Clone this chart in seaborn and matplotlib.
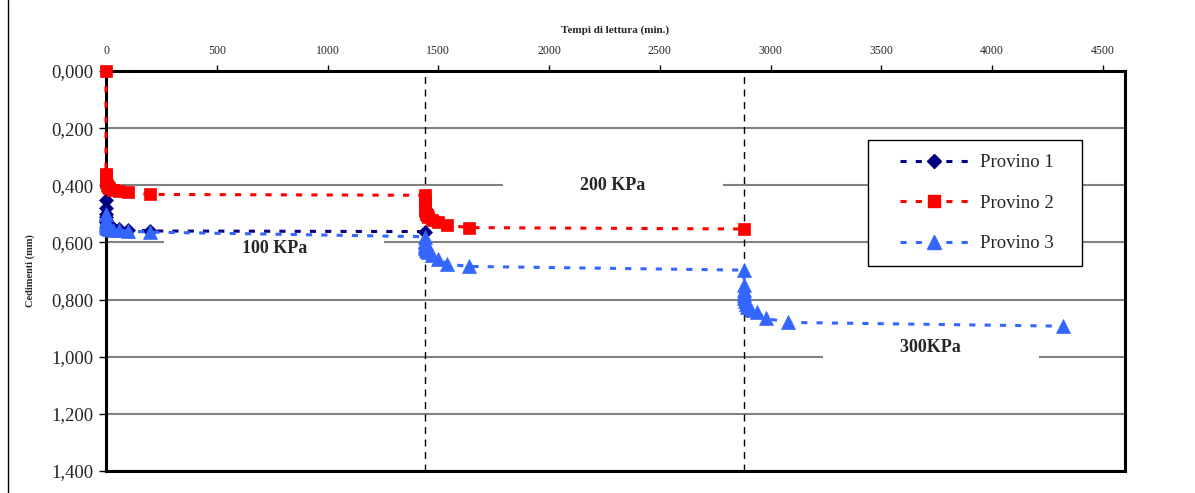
import numpy as np
import pandas as pd
import matplotlib
matplotlib.use("Agg")
import matplotlib.pyplot as plt
from matplotlib.lines import Line2D
from matplotlib.legend_handler import HandlerLine2D
import seaborn as sns

# ---------------- data ----------------
series_names = ["Provino 1", "Provino 2", "Provino 3"]

# reading times (min)
t_phase1 = [0, 0.1, 0.25, 0.5, 1, 2, 4, 8, 15, 30, 60, 100, 200]
t_phase2 = [1440, 1440.1, 1440.25, 1440.5, 1441, 1442, 1444, 1448, 1455, 1470, 1500, 1540, 1640]
t_phase3 = [2880, 2880.1, 2880.25, 2880.5, 2881, 2882, 2884, 2888, 2895, 2910, 2940, 2980, 3080]

# Provino 1 (only first load step + first reading of second)
p1_time = t_phase1 + [1440]
p1_sett = [0.450, 0.480, 0.500, 0.510, 0.520, 0.530, 0.535, 0.540, 0.545, 0.550, 0.552, 0.555, 0.560, 0.562]

# Provino 2
p2_time = t_phase1 + t_phase2 + [2880]
p2_sett = [0.000, 0.360, 0.365, 0.375, 0.385, 0.390, 0.400, 0.405, 0.410, 0.415, 0.420, 0.425, 0.432,
           0.435, 0.450, 0.460, 0.470, 0.480, 0.490, 0.500, 0.505, 0.510, 0.520, 0.530, 0.540, 0.548,
           0.553]

# Provino 3
p3_time = t_phase1 + t_phase2 + t_phase3 + [4320]
p3_sett = [0.500, 0.520, 0.530, 0.535, 0.540, 0.545, 0.550, 0.550, 0.552, 0.555, 0.557, 0.560, 0.564,
           0.580, 0.595, 0.600, 0.610, 0.615, 0.620, 0.625, 0.630, 0.635, 0.645, 0.658, 0.676, 0.684,
           0.697, 0.750, 0.765, 0.777, 0.785, 0.795, 0.805, 0.815, 0.826, 0.836, 0.845, 0.866, 0.880,
           0.893]

load_change_times = [1440, 2880]
load_labels = ["100 KPa", "200 KPa", "300KPa"]
load_label_pos = [(760, 0.62), (2287, 0.40), (3723, 0.966)]

xticks = [0, 500, 1000, 1500, 2000, 2500, 3000, 3500, 4000, 4500]
yticks = [0.0, 0.2, 0.4, 0.6, 0.8, 1.0, 1.2, 1.4]
ytick_labels = ["0,000", "0,200", "0,400", "0,600", "0,800", "1,000", "1,200", "1,400"]

colors = {"Provino 1": "#000080", "Provino 2": "#FF0000", "Provino 3": "#3366FF"}
markers = {"Provino 1": "D", "Provino 2": "s", "Provino 3": "^"}
msizes = {"Provino 1": 7.5, "Provino 2": 9, "Provino 3": 10}

df = pd.concat([
    pd.DataFrame({"t": p1_time, "s": p1_sett, "Provino": "Provino 1"}),
    pd.DataFrame({"t": p2_time, "s": p2_sett, "Provino": "Provino 2"}),
    pd.DataFrame({"t": p3_time, "s": p3_sett, "Provino": "Provino 3"}),
], ignore_index=True)

# ---------------- style ----------------
sns.set_style("white")
plt.rcParams["font.family"] = ["Liberation Serif", "DejaVu Serif"]

fig = plt.figure(figsize=(11.95, 4.93), dpi=100)
ax = fig.add_axes([106 / 1195, 1 - 471 / 493, (1125 - 106) / 1195, 400 / 493])

for name in series_names:
    sub = df[df["Provino"] == name]
    sns.lineplot(data=sub, x="t", y="s", ax=ax, color=colors[name], marker=markers[name],
                 markersize=msizes[name], markeredgecolor=colors[name], markeredgewidth=0.5,
                 lw=2.2, estimator=None, sort=False, legend=False, zorder=3)
for ln in ax.lines:
    ln.set_dashes((2, 3))
    ln.set_clip_on(False)

for tc in load_change_times:
    ax.axvline(tc, color="black", lw=1, ls=(0, (5, 4)), zorder=2.5)

for lbl, (tx, ty) in zip(load_labels, load_label_pos):
    pad = "\u00a0" * 16
    ax.text(tx, ty, pad + lbl + pad, ha="center", va="center", fontsize=13, fontweight="bold",
            bbox=dict(boxstyle="square,pad=0.3", fc="white", ec="none"), zorder=1.5)

ax.set_xlim(0, 4600)
ax.set_ylim(1.4, 0)
ax.set_xticks(xticks)
ax.set_xticklabels([str(v) for v in xticks], fontsize=8.5)
ax.set_yticks(yticks)
ax.set_yticklabels(ytick_labels, fontsize=13.5)
ax.xaxis.tick_top()
ax.xaxis.set_label_position("top")
ax.tick_params(axis="x", direction="out", length=4, width=1, color="black", pad=6)
ax.tick_params(axis="y", direction="out", length=5, width=1, color="black", pad=4, left=True)
ax.set_xlabel("Tempi di lettura (min.)", fontsize=8, fontweight="bold", labelpad=9)
ax.set_ylabel("Cedimenti (mm)", fontsize=7.5, fontweight="bold", labelpad=12)

ax.yaxis.grid(True, color="#808080", lw=1.5)
ax.xaxis.grid(False)
ax.set_axisbelow(True)
for sp in ax.spines.values():
    sp.set_visible(True)
    sp.set_color("black")
    sp.set_linewidth(2.2)


class PadHandler(HandlerLine2D):
    def create_artists(self, legend, orig_handle, xdescent, ydescent, width, height, fontsize, trans):
        shift = 1.0 * fontsize
        return super().create_artists(legend, orig_handle, xdescent - shift, ydescent,
                                      width - shift, height, fontsize, trans)


handles = []
for name in series_names:
    handles.append(Line2D([], [], color=colors[name], marker=markers[name], markersize=msizes[name],
                          markeredgecolor=colors[name], lw=2.2, dashes=(2, 3),
                          label=name + "\u00a0" * 3))
leg = ax.legend(handles=handles, loc="upper right", bbox_to_anchor=(0.958, 0.8275),
                fontsize=13.5, frameon=True, fancybox=False, shadow=False, framealpha=1,
                edgecolor="black", handlelength=4.6, handletextpad=0.65, labelspacing=1.25,
                borderpad=0.75, borderaxespad=0,
                handler_map={Line2D: PadHandler()})
leg.get_frame().set_linewidth(1)
leg.set_zorder(5)

fig.add_artist(Line2D([8 / 1195, 8 / 1195], [0, 1], transform=fig.transFigure, color="black", lw=1))

fig.savefig("out.png", dpi=100)
